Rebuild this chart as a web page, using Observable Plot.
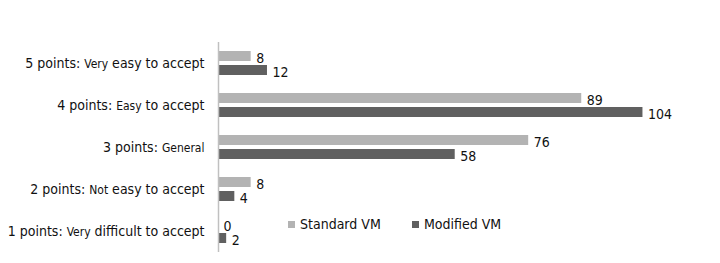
<!DOCTYPE html>
<html>
<head>
<meta charset="utf-8">
<script src="https://cdn.jsdelivr.net/npm/d3@7"></script>
<script src="https://cdn.jsdelivr.net/npm/@observablehq/plot@0.6"></script>
<style>
  html, body { margin: 0; padding: 0; background: #fff; }
  #wrap { position: relative; width: 720px; height: 263px; font-family: "DejaVu Sans Condensed", "DejaVu Sans", sans-serif; font-stretch: condensed; }
  #wrap svg text { font-family: "DejaVu Sans Condensed", "DejaVu Sans", sans-serif; font-stretch: condensed; }
  .legend { position: absolute; top: 216px; font-size: 14px; color: #111; display: flex; align-items: center; white-space: nowrap; }
  .legend .sw { width: 7px; height: 7px; display: inline-block; margin-right: 5px; }
</style>
</head>
<body>
<div id="wrap"></div>
<script>
// Data
const prefixes = ["5 points: ", "4 points: ", "3 points: ", "2 points: ", "1 points: "];
const smallWords = ["Very", "Easy", "General", "Not", "Very"];
const suffixes = [" easy to accept", " to accept", "", " easy to accept", " difficult to accept"];
const categories = prefixes.map((p, i) => p + smallWords[i] + suffixes[i]);
const series = ["Standard VM", "Modified VM"];
const standardVM = [8, 89, 76, 8, 0];
const modifiedVM = [12, 104, 58, 4, 2];
const colors = ["#b3b3b3", "#606060"];

const data = [];
categories.forEach((c, i) => {
  data.push({category: c, series: series[0], value: standardVM[i]});
  data.push({category: c, series: series[1], value: modifiedVM[i]});
});

const chart = Plot.plot({
  width: 720,
  height: 263,
  marginTop: 42,
  marginBottom: 11,
  marginLeft: 218,
  marginRight: 0,
  style: {background: "#fff"},
  x: {domain: [0, 123], axis: null},
  y: {domain: series, axis: null, paddingInner: 0.286, paddingOuter: 0.643},
  fy: {domain: categories, padding: 0, tickSize: 0, tickPadding: 14, label: null},
  color: {domain: series, range: colors},
  marks: [
    Plot.barX(data, {x: "value", y: "series", fy: "category", fill: "series"}),
    Plot.text(data, {x: "value", y: "series", fy: "category", text: d => String(d.value),
      textAnchor: "start", dx: 5, dy: 2, fontSize: 14, fill: "#111"}),
    Plot.ruleX([0], {stroke: "#c0c0c0", strokeWidth: 1.5})
  ]
});

document.getElementById("wrap").appendChild(chart);

// Mixed font sizes in category labels
const svg = d3.select(chart);
svg.selectAll("text").each(function() {
  const el = d3.select(this);
  const t = el.text();
  const i = categories.indexOf(t);
  if (i < 0) return;
  el.style("font-size", "14px").attr("fill", "#111");
  el.text(null);
  el.append("tspan").text(prefixes[i].replace(/ $/, "\u00a0"));
  el.append("tspan").style("font-size", "12px").text(smallWords[i]);
  if (suffixes[i]) el.append("tspan").text(suffixes[i].replace(/^ /, "\u00a0"));
});

// Legend inside plot area
const wrap = document.getElementById("wrap");
const legendX = [288, 412];
series.forEach((s, i) => {
  const d = document.createElement("div");
  d.className = "legend";
  d.style.left = legendX[i] + "px";
  d.innerHTML = `<span class="sw" style="background:${colors[i]}"></span><span>${s}</span>`;
  wrap.appendChild(d);
});
</script>
</body>
</html>
